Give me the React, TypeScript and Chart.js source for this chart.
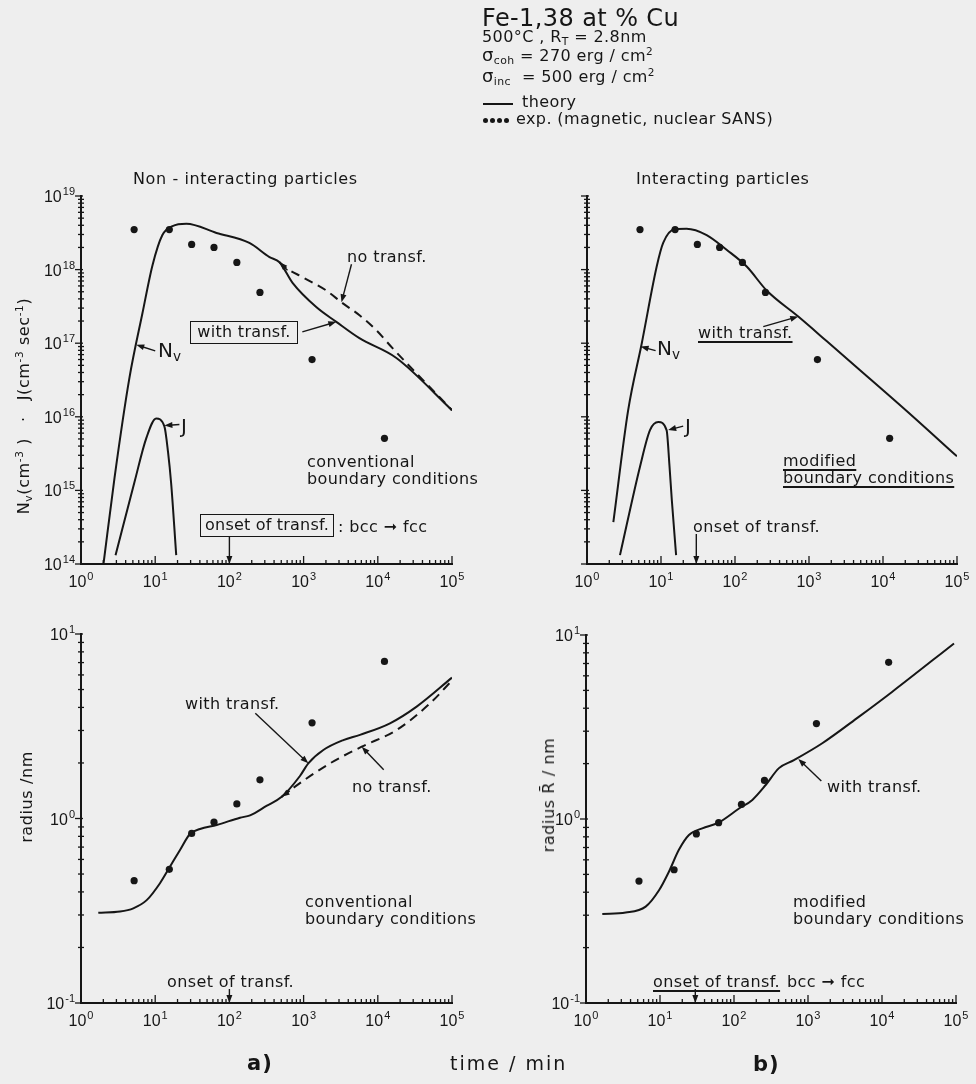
import React, { useEffect, useRef } from "react";
import { Chart, registerables } from "chart.js";

Chart.register(...registerables);

const W = 976;
const H = 1084;
const INK = "#161616";
const BG = "#eeeeee";
const FONT = '"DejaVu Sans", sans-serif';
const TICK_FONT = '"Liberation Sans", "DejaVu Sans", sans-serif';

// ---------------- data ----------------
// experimental points (magnetic / nuclear SANS), time in min
const EXP_TIME = [5.2, 15.5, 31, 62, 126, 258, 1300, 12300];
const EXP_NV = [3.5e18, 3.5e18, 2.2e18, 2.0e18, 1.25e18, 4.9e17, 6.0e16, 5.1e15];
const EXP_R = [0.46, 0.53, 0.83, 0.955, 1.2, 1.62, 3.3, 7.1];

// a) non-interacting particles, conventional boundary conditions
const TL_NV_TIME = [2.01, 2.83, 4.5, 6.74, 9.2, 12.5, 17.1, 26.3, 67, 186, 347, 473, 710, 1480, 2760, 5650, 17800, 100000];
const TL_NV_WITH = [1.0e14, 1.48e15, 3.4e16, 2.57e17, 1.15e18, 2.95e18, 3.9e18, 4.2e18, 3.15e18, 2.3e18, 1.48e18, 1.26e18, 6.6e17, 3.1e17, 1.95e17, 1.17e17, 6.3e16, 1.23e16];
const TL_NV_NO_TIME = [473, 583, 966, 2020, 3350, 5670, 9550, 15900, 100000];
const TL_NV_NO = [1.26e18, 1.05e18, 7.9e17, 5.2e17, 3.5e17, 2.4e17, 1.5e17, 8.5e16, 1.23e16];
const TL_J_TIME = [2.92, 5.26, 7.57, 10.3, 13.3, 14.9, 16.4, 19.2];
const TL_J = [1.32e14, 1.3e15, 5.1e15, 9.5e15, 7.4e15, 3.3e15, 1.25e15, 1.32e14];

// b) interacting particles, modified boundary conditions
const TR_NV_TIME = [2.27, 3.6, 5.5, 8.75, 10.7, 15.5, 22.2, 41.4, 77, 144, 268, 716, 1730, 4900, 20900, 100000];
const TR_NV = [3.7e14, 1.23e16, 1.0e17, 1.1e18, 2.3e18, 3.55e18, 3.6e18, 2.95e18, 1.86e18, 1.1e18, 5.2e17, 2.3e17, 1.07e17, 4.3e16, 1.2e16, 2.9e15];
const TR_J_TIME = [2.79, 5.2, 7.1, 9.2, 11.9, 13.0, 14.0, 16.0];
const TR_J = [1.32e14, 2.1e15, 6.6e15, 8.5e15, 6.6e15, 2.2e15, 7.4e14, 1.32e14];

// radius (nm), a)
const BL_R_TIME = [1.71, 3.36, 5.07, 7.68, 11.6, 15.8, 21.6, 29.4, 40.2, 67.4, 139, 190, 316, 507, 893, 1157, 1845, 3430, 5750, 14600, 33400, 100000];
const BL_R_WITH = [0.308, 0.313, 0.326, 0.361, 0.446, 0.548, 0.675, 0.824, 0.877, 0.922, 1.01, 1.04, 1.17, 1.31, 1.7, 1.99, 2.35, 2.66, 2.84, 3.28, 4.04, 5.8];
const BL_R_NO_TIME = [507, 622, 2270, 6070, 18000, 50600, 100000];
const BL_R_NO = [1.31, 1.4, 1.99, 2.45, 3.02, 4.21, 5.6];

// radius (nm), b)
const BR_R_TIME = [1.66, 3.44, 6.4, 9.7, 13.2, 18, 24.6, 37.3, 61.5, 117, 177, 268, 405, 646, 1560, 4900, 13800, 94000];
const BR_R = [0.305, 0.31, 0.334, 0.41, 0.517, 0.68, 0.818, 0.89, 0.955, 1.14, 1.27, 1.53, 1.89, 2.09, 2.58, 3.6, 4.92, 9.0];

// axes
const X_DECADES = [1, 10, 100, 1000, 10000, 100000];
const NV_DECADES = [1e14, 1e15, 1e16, 1e17, 1e18, 1e19];
const R_DECADES = [0.1, 1, 10];
const ONSET_A = 100;
const ONSET_B = 30;

// ---------------- helpers ----------------
const pts = (xs: number[], ys: number[]) => xs.map((x, i) => ({ x, y: ys[i] }));
const expOf = (v: number) => String(Math.round(Math.log10(v)));

function drawArrow(ctx: CanvasRenderingContext2D, x0: number, y0: number, x1: number, y1: number, head = 8) {
  const ang = Math.atan2(y1 - y0, x1 - x0);
  ctx.beginPath();
  ctx.moveTo(x0, y0);
  ctx.lineTo(x1 - Math.cos(ang) * head * 0.6, y1 - Math.sin(ang) * head * 0.6);
  ctx.stroke();
  ctx.beginPath();
  ctx.moveTo(x1, y1);
  ctx.lineTo(x1 - Math.cos(ang) * head - Math.sin(ang) * 3, y1 - Math.sin(ang) * head + Math.cos(ang) * 3);
  ctx.lineTo(x1 - Math.cos(ang) * head + Math.sin(ang) * 3, y1 - Math.sin(ang) * head - Math.cos(ang) * 3);
  ctx.closePath();
  ctx.fill();
}

// "10" with a raised exponent, drawn as text
function powLabel(ctx: CanvasRenderingContext2D, v: number, x: number, baseY: number, align: "center" | "right") {
  const e = expOf(v);
  ctx.font = `16px ${TICK_FONT}`;
  const w1 = ctx.measureText("10").width;
  ctx.font = `11px ${TICK_FONT}`;
  const w2 = ctx.measureText(e).width;
  const total = w1 + 1 + w2;
  const x0 = align === "center" ? x - total / 2 : x - total;
  ctx.textAlign = "left";
  ctx.textBaseline = "alphabetic";
  ctx.font = `16px ${TICK_FONT}`;
  ctx.fillText("10", x0, baseY);
  ctx.font = `11px ${TICK_FONT}`;
  ctx.fillText(e, x0 + w1 + 1, baseY - 7);
}

const decoPlugin = {
  id: "deco",
  afterDatasetsDraw(chart: any, _args: any, opts: any) {
    const ctx = chart.ctx as CanvasRenderingContext2D;
    const xs = chart.scales.x;
    const ys = chart.scales.y;
    const { left, bottom } = chart.chartArea;
    ctx.save();
    ctx.strokeStyle = INK;
    ctx.fillStyle = INK;
    ctx.lineWidth = 1.3;
    const eachTick = (scale: any, fn: (p: number, major: boolean, v: number) => void) => {
      const d0 = Math.floor(Math.log10(scale.min) + 1e-9);
      const d1 = Math.ceil(Math.log10(scale.max) - 1e-9);
      for (let d = d0; d <= d1; d++) {
        for (let k = 1; k <= 9; k++) {
          const v = k * Math.pow(10, d);
          if (v < scale.min * 0.999 || v > scale.max * 1.001) continue;
          fn(scale.getPixelForValue(v), k === 1, v);
        }
      }
    };
    eachTick(xs, (p, major) => {
      ctx.beginPath();
      ctx.moveTo(p, bottom);
      ctx.lineTo(p, bottom - (major ? 8 : 4));
      ctx.stroke();
    });
    eachTick(ys, (p, major) => {
      ctx.beginPath();
      ctx.moveTo(left - (major ? 6 : 3), p);
      ctx.lineTo(left + (major ? 2 : 3), p);
      ctx.stroke();
    });
    // tick labels
    for (const t of xs.ticks) {
      powLabel(ctx, t.value, xs.getPixelForValue(t.value), bottom + 23, "center");
    }
    if (opts.yLabels) {
      for (const t of ys.ticks) {
        powLabel(ctx, t.value, left - 6, ys.getPixelForValue(t.value) + 6, "right");
      }
    }
    ctx.lineWidth = 1.4;
    for (const a of opts.arrows || []) {
      const tx = xs.getPixelForValue(a.t);
      const ty = ys.getPixelForValue(a.v);
      drawArrow(ctx, tx + a.dx, ty + a.dy, tx, ty, a.head || 8);
    }
    ctx.restore();
  },
};

type Area = { l: number; r: number; t: number; b: number };
const YW = 50;
const XH = 32;

function lineDs(data: any[], dashed = false) {
  return {
    data,
    borderColor: INK,
    borderWidth: 2,
    borderDash: dashed ? [9, 6] : [],
    pointRadius: 0,
    fill: false,
    cubicInterpolationMode: "monotone",
  };
}
function dotDs(data: any[]) {
  return {
    data,
    showLine: false,
    pointRadius: 3.6,
    pointBackgroundColor: INK,
    pointBorderWidth: 0,
    borderColor: INK,
  };
}

function makeConfig(area: Area, yMin: number, yMax: number, yDecades: number[], showY: boolean, datasets: any[], arrows: any[]) {
  return {
    type: "line",
    data: { datasets },
    options: {
      responsive: false,
      animation: false,
      devicePixelRatio: 1,
      events: [],
      layout: {
        padding: { left: area.l - YW, top: area.t, right: W - area.r, bottom: H - area.b - XH },
      },
      plugins: {
        legend: { display: false },
        tooltip: { enabled: false },
        title: { display: false },
        deco: { arrows, yLabels: showY },
      },
      scales: {
        x: {
          type: "logarithmic",
          min: 1,
          max: 1e5,
          afterFit: (s: any) => {
            s.height = XH;
          },
          afterBuildTicks: (s: any) => {
            s.ticks = X_DECADES.map((v) => ({ value: v }));
          },
          grid: { display: false, drawTicks: false },
          border: { display: true, color: INK, width: 2 },
          ticks: { display: false },
        },
        y: {
          type: "logarithmic",
          min: yMin,
          max: yMax,
          afterFit: (s: any) => {
            s.width = YW;
          },
          afterBuildTicks: (s: any) => {
            s.ticks = yDecades.map((v) => ({ value: v }));
          },
          grid: { display: false, drawTicks: false },
          border: { display: true, color: INK, width: 2 },
          ticks: { display: false },
        },
      },
    },
    plugins: [decoPlugin],
  };
}

const AREA_TL: Area = { l: 81, r: 452, t: 196, b: 564 };
const AREA_TR: Area = { l: 587, r: 957, t: 196, b: 564 };
const AREA_BL: Area = { l: 81, r: 452, t: 634, b: 1003 };
const AREA_BR: Area = { l: 586, r: 956, t: 635, b: 1003 };

const CONFIGS = [
  makeConfig(
    AREA_TL, 1e14, 1e19, NV_DECADES, true,
    [
      lineDs(pts(TL_NV_TIME, TL_NV_WITH)),
      lineDs(pts(TL_NV_NO_TIME, TL_NV_NO), true),
      lineDs(pts(TL_J_TIME, TL_J)),
      dotDs(pts(EXP_TIME, EXP_NV)),
    ],
    [
      { t: 5.55, v: 9.5e16, dx: 19, dy: 6 },
      { t: 13.3, v: 7.6e15, dx: 15, dy: -1 },
      { t: 2760, v: 1.95e17, dx: -34, dy: 10 },
      { t: 3240, v: 3.6e17, dx: 10, dy: -38 },
      { t: 473, v: 1.26e18, dx: 8, dy: 8, head: 8 },
      { t: ONSET_A, v: 1e14, dx: 0, dy: -27 },
    ]
  ),
  makeConfig(
    AREA_TR, 1e14, 1e19, NV_DECADES, false,
    [
      lineDs(pts(TR_NV_TIME, TR_NV)),
      lineDs(pts(TR_J_TIME, TR_J)),
      dotDs(pts(EXP_TIME, EXP_NV)),
    ],
    [
      { t: 5.3, v: 9e16, dx: 15, dy: 4 },
      { t: 12.5, v: 6.6e15, dx: 15, dy: -4 },
      { t: 716, v: 2.3e17, dx: -35, dy: 10 },
      { t: ONSET_B, v: 1e14, dx: 0, dy: -30 },
    ]
  ),
  makeConfig(
    AREA_BL, 0.1, 10, R_DECADES, true,
    [
      lineDs(pts(BL_R_TIME, BL_R_WITH)),
      lineDs(pts(BL_R_NO_TIME, BL_R_NO), true),
      dotDs(pts(EXP_TIME, EXP_R)),
    ],
    [
      { t: 1157, v: 1.99, dx: -53, dy: -50 },
      { t: 6070, v: 2.45, dx: 22, dy: 23 },
      { t: 507, v: 1.31, dx: 8, dy: -6, head: 8 },
      { t: ONSET_A, v: 0.1, dx: 0, dy: -14 },
    ]
  ),
  makeConfig(
    AREA_BR, 0.1, 10, R_DECADES, true,
    [lineDs(pts(BR_R_TIME, BR_R)), dotDs(pts(EXP_TIME, EXP_R))],
    [
      { t: 740, v: 2.12, dx: 23, dy: 22 },
      { t: ONSET_B, v: 0.1, dx: 0, dy: -14 },
    ]
  ),
];

function ChartLayer({ config }: { config: any }) {
  const ref = useRef<HTMLCanvasElement>(null);
  useEffect(() => {
    const chart = new Chart(ref.current as HTMLCanvasElement, config);
    return () => chart.destroy();
  }, [config]);
  return (
    <canvas
      ref={ref}
      width={W}
      height={H}
      style={{ position: "absolute", left: 0, top: 0, width: W, height: H }}
    />
  );
}

// ---------------- text helpers ----------------
const Sub = ({ children }: any) => (
  <span style={{ fontSize: "0.68em", verticalAlign: "-0.32em", lineHeight: 0 }}>{children}</span>
);
const Sup = ({ children }: any) => (
  <span style={{ fontSize: "0.66em", verticalAlign: "0.55em", lineHeight: 0 }}>{children}</span>
);

function Txt({ x, base, size = 16, ls = 0.4, style = {}, children }: any) {
  return (
    <div
      style={{
        position: "absolute",
        left: x,
        top: base - 0.846 * size,
        fontSize: size,
        lineHeight: 1,
        fontFamily: FONT,
        color: INK,
        whiteSpace: "nowrap",
        letterSpacing: ls,
        ...style,
      }}
    >
      {children}
    </div>
  );
}

function VTitle({ cx, cy, size = 16, children }: any) {
  return (
    <div
      style={{
        position: "absolute",
        left: cx,
        top: cy,
        transform: "translate(-50%, -50%) rotate(-90deg)",
        fontSize: size,
        lineHeight: 1,
        fontFamily: FONT,
        color: INK,
        whiteSpace: "nowrap",
        letterSpacing: 0.6,
      }}
    >
      {children}
    </div>
  );
}

function Boxed({ x, y, w, h, size = 16, ls = 0.3, children }: any) {
  return (
    <div
      style={{
        position: "absolute",
        left: x,
        top: y,
        width: w,
        height: h,
        boxSizing: "border-box",
        border: `1.6px solid ${INK}`,
        fontSize: size,
        lineHeight: `${h - 3}px`,
        fontFamily: FONT,
        color: INK,
        textAlign: "center",
        whiteSpace: "nowrap",
        letterSpacing: ls,
      }}
    >
      {children}
    </div>
  );
}

const UL = { textDecoration: "underline", textUnderlineOffset: "3px", textDecorationThickness: "1.5px" };

export default function App() {
  return (
    <div style={{ position: "absolute", left: 0, top: 0, width: W, height: H, background: BG, overflow: "hidden" }}>
      {CONFIGS.map((c, i) => (
        <ChartLayer key={i} config={c} />
      ))}

      {/* header */}
      <Txt x={482} base={26} size={24} ls={0.4}>Fe-1,38 at % Cu</Txt>
      <Txt x={482} base={43} size={16} ls={0.4}>
        500°C , R<Sub>T</Sub> = 2.8nm
      </Txt>
      <Txt x={482} base={60} size={16} ls={0.4}>
        <span style={{ fontSize: 18 }}>σ</span>
        <Sub>coh</Sub> = 270 erg / cm<Sup>2</Sup>
      </Txt>
      <Txt x={482} base={81} size={16} ls={0.4}>
        <span style={{ fontSize: 18 }}>σ</span>
        <Sub>inc</Sub> &nbsp;= 500 erg / cm<Sup>2</Sup>
      </Txt>
      <div style={{ position: "absolute", left: 483, top: 103, width: 30, height: 2, background: INK }} />
      <Txt x={522} base={108} size={16} ls={0.4}>theory</Txt>
      {[0, 1, 2, 3].map((i) => (
        <div
          key={i}
          style={{ position: "absolute", left: 483 + i * 7, top: 118, width: 5, height: 5, borderRadius: 3, background: INK }}
        />
      ))}
      <Txt x={516} base={125} size={16} ls={0.4}>exp. (magnetic, nuclear SANS)</Txt>

      {/* panel titles */}
      <Txt x={133} base={185} size={16} ls={0.6}>Non - interacting particles</Txt>
      <Txt x={636} base={185} size={16} ls={0.6}>Interacting particles</Txt>

      {/* y-axis titles */}
      <VTitle cx={24} cy={406} size={16}>
        N<Sub>v</Sub>(cm<Sup>-3</Sup> )<span style={{ margin: "0 16px" }}>·</span>J(cm<Sup>-3</Sup> sec<Sup>-1</Sup>)
      </VTitle>
      <VTitle cx={27} cy={797} size={16}>radius /nm</VTitle>
      <VTitle cx={549} cy={795} size={16}>radius R̄ / nm</VTitle>

      {/* top-left annotations */}
      <Txt x={347} base={263}>no transf.</Txt>
      <Boxed x={190} y={321} w={108} h={23}>with transf.</Boxed>
      <Txt x={158} base={357} size={20} ls={0}>
        N<Sub>v</Sub>
      </Txt>
      <Txt x={181} base={433} size={20} ls={0}>J</Txt>
      <Txt x={307} base={468}>conventional</Txt>
      <Txt x={307} base={485}>boundary conditions</Txt>
      <Boxed x={200} y={514} w={134} h={23} ls={0.2}>onset of transf.</Boxed>
      <Txt x={338} base={533}>: bcc ➞ fcc</Txt>

      {/* top-right annotations */}
      <Txt x={657} base={355} size={20} ls={0}>
        N<Sub>v</Sub>
      </Txt>
      <Txt x={685} base={433} size={20} ls={0}>J</Txt>
      <Txt x={698} base={339} style={UL}>with transf.</Txt>
      <Txt x={783} base={467} style={UL}>modified</Txt>
      <Txt x={783} base={484} style={UL}>boundary conditions</Txt>
      <Txt x={693} base={533}>onset of transf.</Txt>

      {/* bottom-left annotations */}
      <Txt x={185} base={710}>with transf.</Txt>
      <Txt x={352} base={793}>no transf.</Txt>
      <Txt x={305} base={908}>conventional</Txt>
      <Txt x={305} base={925}>boundary conditions</Txt>
      <Txt x={167} base={988}>onset of transf.</Txt>

      {/* bottom-right annotations */}
      <Txt x={827} base={793}>with transf.</Txt>
      <Txt x={793} base={908}>modified</Txt>
      <Txt x={793} base={925}>boundary conditions</Txt>
      <Txt x={653} base={988} style={UL}>onset of transf.</Txt>
      <Txt x={787} base={988}>bcc ➞ fcc</Txt>

      {/* bottom labels */}
      <Txt x={247} base={1071} size={21} ls={1} style={{ fontWeight: "bold" }}>a)</Txt>
      <Txt x={450} base={1070} size={19} ls={2}>time / min</Txt>
      <Txt x={753} base={1072} size={21} ls={1} style={{ fontWeight: "bold" }}>b)</Txt>
    </div>
  );
}
